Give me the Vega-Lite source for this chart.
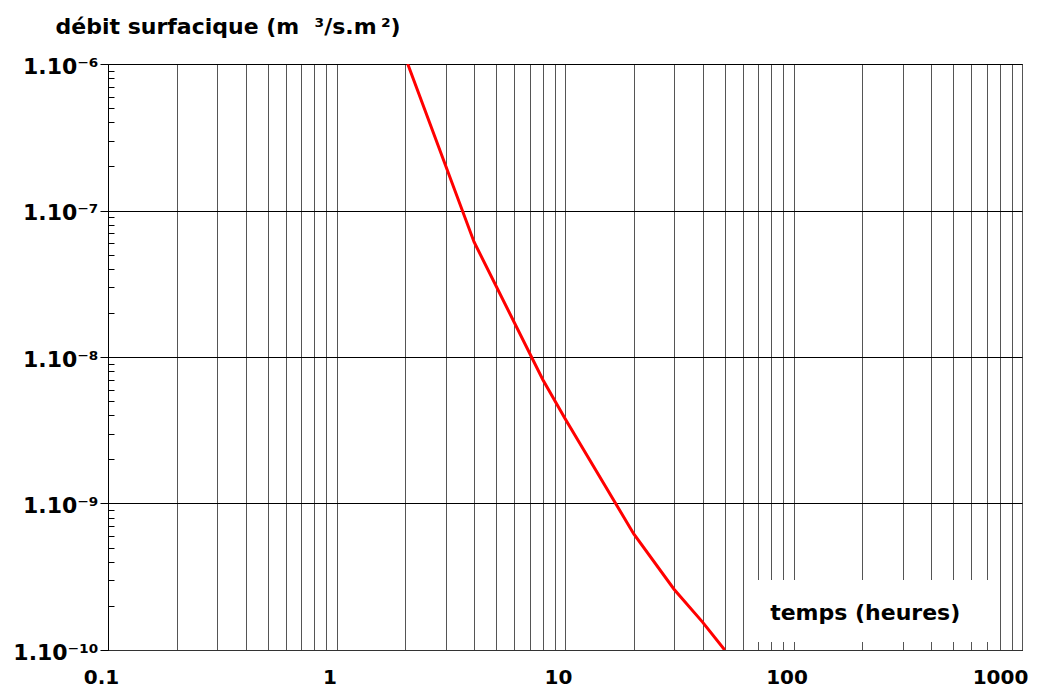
{
  "$schema": "https://vega.github.io/schema/vega-lite/v6.json",
  "width": 914,
  "height": 586,
  "autosize": "none",
  "padding": {"left": 108, "top": 64, "right": 28, "bottom": 48},
  "background": "white",
  "config": {"view": {"stroke": "#000", "strokeWidth": 1}, "font": "DejaVu Sans"},
  "data": {
    "values": [
      {"t": 2.05, "q": 1e-6},
      {"t": 4, "q": 6.1e-8},
      {"t": 8, "q": 7e-9},
      {"t": 10, "q": 3.8e-9},
      {"t": 20, "q": 6.2e-10},
      {"t": 30, "q": 2.6e-10},
      {"t": 40, "q": 1.55e-10},
      {"t": 50, "q": 1e-10}
    ]
  },
  "layer": [
    {
      "mark": {"type": "line", "color": "#ff0000", "strokeWidth": 3, "clip": true},
      "encoding": {
        "x": {
          "field": "t",
          "type": "quantitative",
          "scale": {"type": "log", "domain": [0.1, 1000], "nice": false},
          "axis": {
            "values": [0.1, 0.2, 0.3, 0.4, 0.5, 0.6, 0.7, 0.8, 0.9, 1, 2, 3, 4, 5, 6, 7, 8, 9, 10, 20, 30, 40, 50, 60, 70, 80, 90, 100, 200, 300, 400, 500, 600, 700, 800, 900, 1000],
            "grid": true,
            "gridColor": "#555",
            "gridWidth": 1,
            "ticks": false,
            "domainColor": "#333",
            "labelExpr": "indexof([0.1, 1, 10, 100, 1000], datum.value) >= 0 ? format(datum.value, '~g') : ''",
            "labelFont": "DejaVu Sans",
            "labelFontWeight": "bold",
            "labelFontSize": 20,
            "labelColor": "#000",
            "labelBaseline": "top",
            "labelPadding": 17,
            "labelFlush": false,
            "labelOverlap": false,
            "labelBound": false,
            "labelOffset": {"condition": {"test": "datum.value >= 999", "value": -22}, "value": -7},
            "title": null
          }
        },
        "y": {
          "field": "q",
          "type": "quantitative",
          "scale": {"type": "log", "domain": [1e-10, 1e-6], "nice": false},
          "axis": {
            "values": [1e-10, 2e-10, 3e-10, 4e-10, 5e-10, 6e-10, 7e-10, 8e-10, 9e-10, 1e-9, 2e-9, 3e-9, 4e-9, 5e-9, 6e-9, 7e-9, 8e-9, 9e-9, 1e-8, 2e-8, 3e-8, 4e-8, 5e-8, 6e-8, 7e-8, 8e-8, 9e-8, 1e-7, 2e-7, 3e-7, 4e-7, 5e-7, 6e-7, 7e-7, 8e-7, 9e-7, 1e-6],
            "grid": true,
            "gridColor": "#000",
            "gridWidth": 1,
            "gridOpacity": {"condition": {"test": "abs(log(datum.value)/LN10 - round(log(datum.value)/LN10)) < 0.001", "value": 1}, "value": 0},
            "ticks": true,
            "tickColor": "#000",
            "tickWidth": 1,
            "tickSize": {"condition": {"test": "abs(log(datum.value)/LN10 - round(log(datum.value)/LN10)) < 0.001", "value": 8}, "value": -6},
            "domainColor": "#000",
            "labelExpr": "abs(datum.value/1e-6-1)<1e-6 ? '1.10⁻⁶' : abs(datum.value/1e-7-1)<1e-6 ? '1.10⁻⁷' : abs(datum.value/1e-8-1)<1e-6 ? '1.10⁻⁸' : abs(datum.value/1e-9-1)<1e-6 ? '1.10⁻⁹' : abs(datum.value/1e-10-1)<1e-6 ? '1.10⁻¹⁰' : ''",
            "labelFont": "DejaVu Sans",
            "labelFontWeight": "bold",
            "labelFontSize": 22,
            "labelColor": "#000",
            "labelPadding": 2,
            "labelOffset": 2,
            "labelOverlap": false,
            "labelBound": false,
            "labelFlush": false,
            "title": "débit surfacique (m\u00a0\u00a0³/s.m\u2009²)",
            "titleFont": "DejaVu Sans",
            "titleFontWeight": "bold",
            "titleFontSize": 22,
            "titleColor": "#000",
            "titleAngle": 0,
            "titleAlign": "left",
            "titleBaseline": "alphabetic",
            "titleX": -53,
            "titleY": -31
          }
        }
      }
    },
    {
      "data": {"values": [{}]},
      "mark": {"type": "rect", "fill": "white", "stroke": null},
      "encoding": {
        "x": {"datum": 63, "type": "quantitative"},
        "x2": {"datum": 775},
        "y": {"datum": 1.134e-10, "type": "quantitative"},
        "y2": {"datum": 3.0e-10}
      }
    },
    {
      "data": {"values": [{}]},
      "mark": {"type": "text", "text": "temps (heures)", "font": "DejaVu Sans", "fontWeight": "bold", "fontSize": 22, "align": "center", "baseline": "alphabetic", "color": "#000"},
      "encoding": {
        "x": {"datum": 206, "type": "quantitative"},
        "y": {"datum": 1.6e-10, "type": "quantitative"}
      }
    }
  ]
}
